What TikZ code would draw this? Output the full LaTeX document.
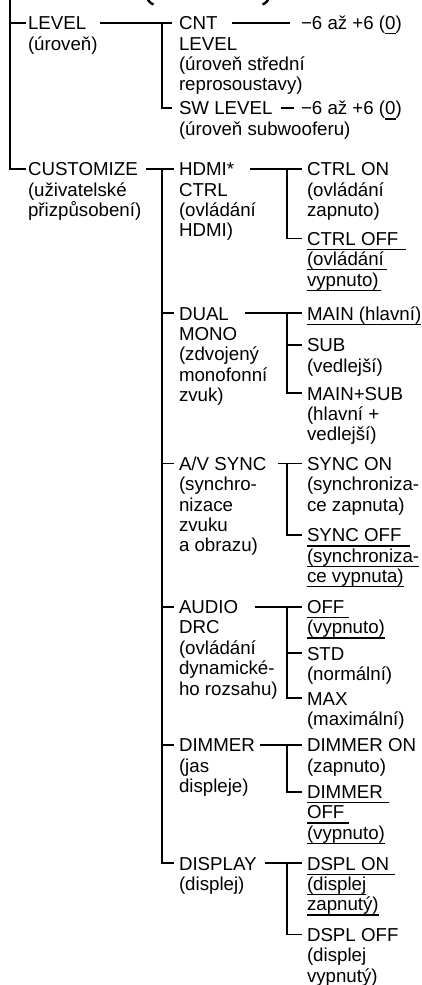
\documentclass[tikz,border=0pt]{standalone}
\usepackage{fontspec}
\setmainfont{Liberation Sans}
\newsavebox\ulbox
\newcommand\ulx[2][0pt]{\sbox\ulbox{#2}\rlap{\rule[-4.8pt]{\dimexpr\wd\ulbox+#1\relax}{1.2pt}}\usebox\ulbox}
\newcommand\stk[1]{\vtop{\baselineskip=20.4pt\lineskiplimit=-30pt\lineskip=0pt\halign{##\hfil\cr#1\crcr}}}
\tikzset{
  hd/.style={anchor=west, inner sep=0pt, outer sep=0pt, text height=13.4pt, text depth=0pt},
  tl/.style={anchor=base west, inner sep=0pt, outer sep=0pt},
  ln/.style={line width=1.8pt},
}
\begin{document}
\begin{tikzpicture}[x=1pt, y=-1pt, font=\fontsize{18.7}{20.4}\selectfont]
\useasboundingbox (0,0) rectangle (421,985);
% cut-off heading (bottoms of parentheses)
\draw[line width=2.4pt] (146.5,-4) .. controls (148,1) and (150,3) .. (153.5,4.5);
\draw[line width=2.4pt] (269.5,-4) .. controls (268,1) and (266,3) .. (262.5,4.5);
% level 1
\node[hd] (lvl) at (28,23) {LEVEL};
\node[tl] (lvl-t) at ([yshift=-20.4pt]lvl.base west) {\stk{(úroveň)}};
\node[hd] (cust) at (28,169) {CUSTOMIZE};
\node[tl] (cust-t) at ([yshift=-20.4pt]cust.base west) {\stk{(uživatelské\cr přizpůsobení)}};
% LEVEL subtree
\node[hd] (cnt) at (179,23) {CNT};
\node[tl] (cnt-t) at ([yshift=-20.4pt]cnt.base west) {\stk{LEVEL\cr(úroveň střední\cr reprosoustavy)}};
\node[hd] (val1) at (301,23) {−6 až +6 (\ulx{0})};
\node[hd] (sw) at (179,108) {SW LEVEL};
\node[tl] (sw-t) at ([yshift=-20.4pt]sw.base west) {\stk{(úroveň subwooferu)}};
\node[hd] (val2) at (301,108) {−6 až +6 (\ulx{0})};
% CUSTOMIZE subtree
\node[hd] (hdmi) at (179,169) {HDMI*};
\node[tl] (hdmi-t) at ([yshift=-20.4pt]hdmi.base west) {\stk{CTRL\cr(ovládání\cr HDMI)}};
\node[hd] (con) at (307,169) {CTRL ON};
\node[tl] (con-t) at ([yshift=-20.4pt]con.base west) {\stk{(ovládání\cr zapnuto)}};
\node[hd] (coff) at (307,238.5) {\ulx[8pt]{CTRL OFF}};
\node[tl] (coff-t) at ([yshift=-20.4pt]coff.base west) {\stk{\ulx[3pt]{(ovládání}\cr\ulx[2pt]{vypnuto)}}};

\node[hd] (dual) at (179,313.3) {DUAL};
\node[tl] (dual-t) at ([yshift=-20.4pt]dual.base west) {\stk{MONO\cr(zdvojený\cr monofonní\cr zvuk)}};
\node[hd] (main) at (307,313.3) {\ulx{MAIN (hlavní)}};
\node[hd] (sub) at (307,345) {SUB};
\node[tl] (sub-t) at ([yshift=-20.4pt]sub.base west) {\stk{(vedlejší)}};
\node[hd] (ms) at (307,393.3) {MAIN+SUB};
\node[tl] (ms-t) at ([yshift=-20.4pt]ms.base west) {\stk{(hlavní +\cr vedlejší)}};

\node[hd] (av) at (179,463.5) {A/V SYNC};
\node[tl] (av-t) at ([yshift=-20.4pt]av.base west) {\stk{(synchro-\cr nizace\cr zvuku\cr a obrazu)}};
\node[hd] (son) at (307,463.5) {SYNC ON};
\node[tl] (son-t) at ([yshift=-20.4pt]son.base west) {\stk{(synchroniza-\cr ce zapnuta)}};
\node[hd] (soff) at (307,535) {\ulx[8pt]{SYNC OFF}};
\node[tl] (soff-t) at ([yshift=-20.4pt]soff.base west) {\stk{\ulx{(synchroniza-}\cr\ulx{ce vypnuta)}}};

\node[hd] (audio) at (179,606.7) {AUDIO};
\node[tl] (audio-t) at ([yshift=-20.4pt]audio.base west) {\stk{DRC\cr(ovládání\cr dynamické-\cr ho rozsahu)}};
\node[hd] (off) at (307,606.7) {\ulx[5pt]{OFF}};
\node[tl] (off-t) at ([yshift=-20.4pt]off.base west) {\stk{\ulx{(vypnuto)}}};
\node[hd] (std) at (307,653.3) {STD};
\node[tl] (std-t) at ([yshift=-20.4pt]std.base west) {\stk{(normální)}};
\node[hd] (max) at (307,698.3) {MAX};
\node[tl] (max-t) at ([yshift=-20.4pt]max.base west) {\stk{(maximální)}};

\node[hd] (dim) at (179,745) {DIMMER};
\node[tl] (dim-t) at ([yshift=-20.4pt]dim.base west) {\stk{(jas\cr displeje)}};
\node[hd] (don) at (307,745) {DIMMER ON};
\node[tl] (don-t) at ([yshift=-20.4pt]don.base west) {\stk{(zapnuto)}};
\node[hd] (doff) at (307,791.7) {\ulx[6pt]{DIMMER}};
\node[tl] (doff-t) at ([yshift=-20.4pt]doff.base west) {\stk{\ulx[5pt]{OFF}\cr\ulx{(vypnuto)}}};

\node[hd] (disp) at (179,863.3) {DISPLAY};
\node[tl] (disp-t) at ([yshift=-20.4pt]disp.base west) {\stk{(displej)}};
\node[hd] (dson) at (307,863.3) {\ulx[6pt]{DSPL ON}};
\node[tl] (dson-t) at ([yshift=-20.4pt]dson.base west) {\stk{\ulx{(displej}\cr\ulx{zapnutý)}}};
\node[hd] (dsoff) at (307,934.5) {DSPL OFF};
\node[tl] (dsoff-t) at ([yshift=-20.4pt]dsoff.base west) {\stk{(displej\cr vypnutý)}};

% connectors
\coordinate (top) at (10,-3);
\coordinate (spine) at (162,0);
\coordinate (s2) at (286.7,0);
\draw[ln] (top) |- ([xshift=-2pt]cust.west);
\draw[ln] (lvl.west -| top) -- ([xshift=-2pt]lvl.west);
\draw[ln] (lvl.west -| 100,0) -- ([xshift=-7pt]cnt.west);
\draw[ln] (cnt.west -| spine) |- ([xshift=-7pt]sw.west);
\draw[ln] (cnt.west -| 232,0) -- ([xshift=-11pt]val1.west);
\draw[ln] ([xshift=8pt]sw.east) -- ([xshift=-7pt]val2.west);
\draw[ln] (cust.west -| 146,0) -- ([xshift=-5pt]hdmi.west);
\draw[ln] (hdmi.west -| spine) |- ([xshift=-5pt]disp.west);
\foreach \n in {dual,av,audio,dim}
  \draw[ln] (\n.west -| spine) -- ([xshift=-5pt]\n.west);
\draw[ln] (hdmi.west -| 250,0) -- ([xshift=-5.3pt]con.west);
\draw[ln] (con.west -| s2) |- ([xshift=-5.3pt]coff.west);
\draw[ln] (dual.west -| 245,0) -- ([xshift=-5.3pt]main.west);
\draw[ln] (main.west -| s2) |- ([xshift=-5.3pt]ms.west);
\draw[ln] (sub.west -| s2) -- ([xshift=-5.3pt]sub.west);
\draw[ln] (av.west -| 278,0) -- ([xshift=-5.3pt]son.west);
\draw[ln] (son.west -| s2) |- ([xshift=-5.3pt]soff.west);
\draw[ln] (audio.west -| 255,0) -- ([xshift=-5.3pt]off.west);
\draw[ln] (off.west -| s2) |- ([xshift=-5.3pt]max.west);
\draw[ln] (std.west -| s2) -- ([xshift=-5.3pt]std.west);
\draw[ln] (dim.west -| 260,0) -- ([xshift=-5.3pt]don.west);
\draw[ln] (don.west -| s2) |- ([xshift=-5.3pt]doff.west);
\draw[ln] (disp.west -| 265,0) -- ([xshift=-5.3pt]dson.west);
\draw[ln] (dson.west -| s2) |- ([xshift=-5.3pt]dsoff.west);
\end{tikzpicture}
\end{document}
